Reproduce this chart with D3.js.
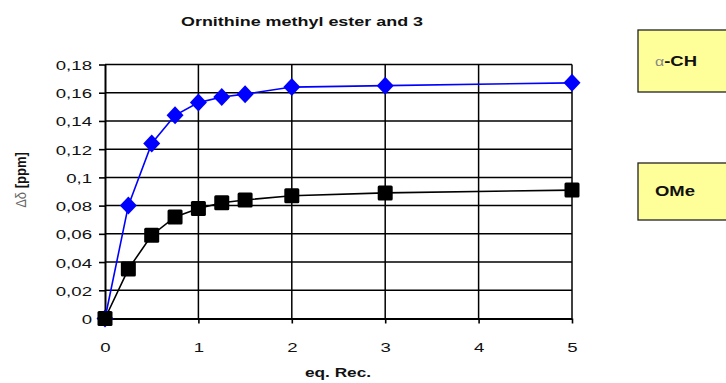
<!DOCTYPE html>
<html>
<head>
<meta charset="utf-8">
<script src="https://cdn.jsdelivr.net/npm/d3@7"></script>
<style>
  html, body { margin: 0; padding: 0; background: #fff; }
  svg { display: block; }
  text { font-family: "Liberation Sans", Arial, sans-serif; }
</style>
</head>
<body>
<svg id="chart" width="726" height="383"></svg>
<script>
// Titration data: chemical shift change vs. receptor equivalents
const eqRec      = [0, 0.25, 0.5, 0.75, 1, 1.25, 1.5, 2, 3, 5];
const alphaCH    = [0, 0.080, 0.124, 0.144, 0.153, 0.157, 0.159, 0.164, 0.165, 0.167];
const ome        = [0, 0.035, 0.059, 0.072, 0.078, 0.082, 0.084, 0.087, 0.089, 0.091];

const xTicks      = [0, 1, 2, 3, 4, 5];
const xTickLabels = ["0", "1", "2", "3", "4", "5"];
const yTicks      = [0, 0.02, 0.04, 0.06, 0.08, 0.1, 0.12, 0.14, 0.16, 0.18];
const yTickLabels = ["0", "0,02", "0,04", "0,06", "0,08", "0,1", "0,12", "0,14", "0,16", "0,18"];

const chartTitle = "Ornithine methyl ester and 3";
const xTitle = "eq. Rec.";
const legendLabels = ["α-CH", "OMe"];

// Wide lettering used throughout the chart
const SX = 1.38;

const svg = d3.select("#chart");

const plot = { left: 105, right: 572, top: 64.5, bottom: 318.5 };

const x = d3.scaleLinear().domain([0, 5]).range([plot.left, plot.right]);
const y = d3.scaleLinear().domain([0, 0.18]).range([plot.bottom, plot.top]);

// Grid
const grid = svg.append("g").attr("stroke", "#000").attr("stroke-width", 1.5);
grid.selectAll("line.h").data(yTicks.slice(1)).join("line")
  .attr("x1", plot.left).attr("x2", plot.right)
  .attr("y1", d => y(d)).attr("y2", d => y(d));
grid.selectAll("line.v").data(xTicks.slice(1)).join("line")
  .attr("y1", plot.top).attr("y2", plot.bottom)
  .attr("x1", d => x(d)).attr("x2", d => x(d));

// Axes
const yAxis = svg.append("g")
  .attr("transform", `translate(${plot.left},0)`)
  .call(d3.axisLeft(y).tickValues(yTicks).tickSize(6).tickSizeOuter(0)
    .tickFormat((d, i) => yTickLabels[i]));
const xAxis = svg.append("g")
  .attr("transform", `translate(0,${plot.bottom})`)
  .call(d3.axisBottom(x).tickValues(xTicks).tickSize(5).tickSizeOuter(0)
    .tickFormat((d, i) => xTickLabels[i]));

[yAxis, xAxis].forEach(a => {
  a.select(".domain").attr("stroke", "#000").attr("stroke-width", 2);
  a.selectAll(".tick line").attr("stroke", "#000").attr("stroke-width", 1.6);
  a.selectAll(".tick text")
    .attr("fill", "#111")
    .style("font-size", "13.5px")
    .style("font-family", "'Liberation Sans', Arial, sans-serif");
});
yAxis.selectAll(".tick text")
  .attr("x", null).attr("dy", null)
  .attr("text-anchor", "end")
  .attr("transform", `translate(-13,5) scale(${SX},1)`);
xAxis.selectAll(".tick text")
  .attr("y", null).attr("dy", null)
  .attr("text-anchor", "middle")
  .attr("transform", `translate(0,33) scale(${SX},1)`);

// Series
const pts = vals => eqRec.map((e, i) => [e, vals[i]]);
const line = d3.line().x(d => x(d[0])).y(d => y(d[1]));

svg.append("path").datum(pts(alphaCH))
  .attr("fill", "none").attr("stroke", "#0000ff").attr("stroke-width", 1.6)
  .attr("d", line);
svg.append("g").selectAll("path").data(pts(alphaCH)).join("path")
  .attr("fill", "#0000ff")
  .attr("d", d => {
    const cx = x(d[0]), cy = y(d[1]), w = 8.5, h = 9;
    return `M${cx},${cy - h}L${cx + w},${cy}L${cx},${cy + h}L${cx - w},${cy}Z`;
  });

svg.append("path").datum(pts(ome))
  .attr("fill", "none").attr("stroke", "#000").attr("stroke-width", 1.6)
  .attr("d", line);
svg.append("g").selectAll("rect").data(pts(ome)).join("rect")
  .attr("fill", "#000")
  .attr("x", d => x(d[0]) - 7.5).attr("y", d => y(d[1]) - 7.5)
  .attr("width", 15).attr("height", 15).attr("rx", 1.5);

// Titles
svg.append("text")
  .attr("text-anchor", "middle")
  .attr("transform", `translate(302,26) scale(${SX},1)`)
  .style("font-size", "13px").style("font-weight", "bold").attr("fill", "#111")
  .text(chartTitle);

svg.append("text")
  .attr("text-anchor", "middle")
  .attr("transform", `translate(338,377) scale(${SX},1)`)
  .style("font-size", "12.5px").style("font-weight", "bold").attr("fill", "#111")
  .text(xTitle);

const yt = svg.append("text")
  .attr("text-anchor", "middle")
  .attr("transform", `translate(26,180) scale(1.15,1) rotate(-90)`)
  .style("font-size", "13px");
yt.append("tspan").attr("fill", "#666").text("Δδ ");
yt.append("tspan").attr("fill", "#111").style("font-weight", "bold").text("[ppm]");

// Legend boxes
const boxes = [
  { y: 30, h: 62, base: 66 },
  { y: 163, h: 57, base: 196 }
];
boxes.forEach((b, i) => {
  svg.append("rect")
    .attr("x", 638).attr("y", b.y).attr("width", 110).attr("height", b.h)
    .attr("fill", "#ffff99").attr("stroke", "#222").attr("stroke-width", 1.3);
  const t = svg.append("text")
    .attr("transform", `translate(655,${b.base}) scale(1.32,1)`)
    .style("font-size", "14px");
  const label = legendLabels[i];
  if (label.startsWith("α")) {
    t.append("tspan").attr("fill", "#888").style("font-size", "12px").text("α");
    t.append("tspan").attr("fill", "#111").style("font-weight", "bold").text(label.slice(1));
  } else {
    t.append("tspan").attr("fill", "#111").style("font-weight", "bold").text(label);
  }
});
</script>
</body>
</html>
